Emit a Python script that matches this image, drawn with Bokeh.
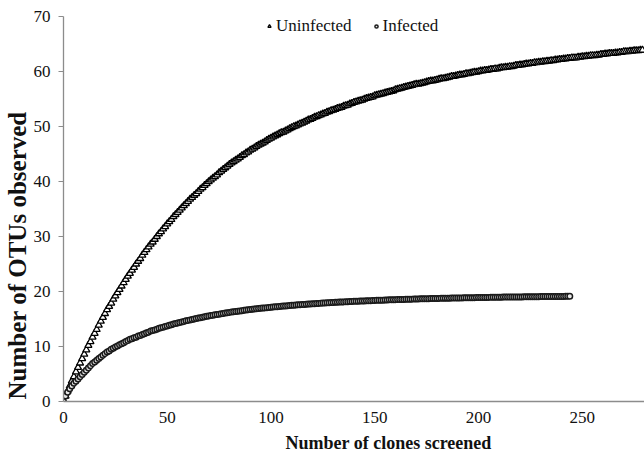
from bokeh.plotting import figure
from bokeh.models import Range1d, Legend, LegendItem, Title, FixedTicker
from bokeh.embed import file_html
from bokeh.resources import INLINE

# OTUs observed vs. number of clones screened (one value per clone, starting at 0)
uninfected_otus = [
    0, 1.0, 1.9, 2.8, 3.7, 4.5, 5.4, 6.2, 7.0, 7.8, 8.6,
    9.4, 10.2, 10.9, 11.7, 12.4, 13.1, 13.9, 14.6, 15.3, 16.0,
    16.7, 17.3, 17.9, 18.6, 19.2, 19.8, 20.4, 21.0, 21.6, 22.2,
    22.8, 23.3, 23.9, 24.4, 25.0, 25.5, 26.0, 26.6, 27.1, 27.6,
    28.1, 28.6, 29.0, 29.5, 30.0, 30.5, 30.9, 31.4, 31.8, 32.3,
    32.7, 33.1, 33.6, 34.0, 34.4, 34.8, 35.2, 35.6, 36.0, 36.4,
    36.8, 37.1, 37.5, 37.8, 38.2, 38.6, 38.9, 39.3, 39.6, 40.0,
    40.3, 40.6, 40.9, 41.2, 41.6, 41.9, 42.2, 42.5, 42.8, 43.1,
    43.4, 43.6, 43.9, 44.1, 44.4, 44.7, 44.9, 45.2, 45.4, 45.7,
    45.9, 46.1, 46.4, 46.6, 46.8, 47.0, 47.2, 47.5, 47.7, 47.9,
    48.1, 48.3, 48.5, 48.7, 48.9, 49.0, 49.2, 49.4, 49.6, 49.8,
    50.0, 50.1, 50.3, 50.5, 50.6, 50.8, 51.0, 51.2, 51.3, 51.5,
    51.7, 51.8, 52.0, 52.1, 52.3, 52.4, 52.6, 52.7, 52.9, 53.0,
    53.1, 53.3, 53.4, 53.5, 53.7, 53.8, 53.9, 54.1, 54.2, 54.4,
    54.5, 54.6, 54.7, 54.8, 55.0, 55.1, 55.2, 55.3, 55.4, 55.6,
    55.7, 55.8, 55.9, 56.0, 56.1, 56.2, 56.3, 56.4, 56.5, 56.7,
    56.8, 56.9, 57.0, 57.1, 57.2, 57.3, 57.4, 57.5, 57.6, 57.7,
    57.7, 57.8, 57.9, 58.0, 58.1, 58.2, 58.3, 58.3, 58.4, 58.5,
    58.6, 58.7, 58.7, 58.8, 58.9, 59.0, 59.1, 59.1, 59.2, 59.3,
    59.4, 59.4, 59.5, 59.6, 59.6, 59.7, 59.8, 59.9, 59.9, 60.0,
    60.1, 60.1, 60.2, 60.2, 60.3, 60.4, 60.4, 60.5, 60.5, 60.6,
    60.7, 60.7, 60.8, 60.8, 60.9, 60.9, 61.0, 61.1, 61.1, 61.2,
    61.2, 61.3, 61.4, 61.4, 61.5, 61.5, 61.6, 61.6, 61.7, 61.7,
    61.8, 61.8, 61.9, 61.9, 62.0, 62.0, 62.1, 62.1, 62.2, 62.2,
    62.3, 62.3, 62.4, 62.4, 62.5, 62.5, 62.5, 62.6, 62.6, 62.7,
    62.7, 62.8, 62.8, 62.9, 62.9, 62.9, 63.0, 63.0, 63.1, 63.1,
    63.2, 63.2, 63.3, 63.3, 63.3, 63.4, 63.4, 63.5, 63.5, 63.6,
    63.6, 63.6, 63.7, 63.7, 63.8, 63.8, 63.8, 63.9, 63.9,
]

infected_otus = [
    0, 1.0, 1.7, 2.3, 2.8, 3.3, 3.7, 4.1, 4.5, 4.9, 5.3,
    5.7, 6.1, 6.5, 6.9, 7.2, 7.5, 7.8, 8.1, 8.4, 8.7,
    9.0, 9.2, 9.5, 9.7, 9.9, 10.1, 10.3, 10.5, 10.7, 10.9,
    11.1, 11.3, 11.4, 11.6, 11.7, 11.9, 12.0, 12.2, 12.3, 12.5,
    12.6, 12.8, 12.9, 13.0, 13.15, 13.3, 13.4, 13.5, 13.65, 13.75,
    13.86, 13.97, 14.07, 14.17, 14.27, 14.37, 14.47, 14.56, 14.66, 14.75,
    14.84, 14.92, 15.0, 15.08, 15.16, 15.24, 15.32, 15.4, 15.48, 15.55,
    15.62, 15.69, 15.76, 15.82, 15.88, 15.95, 16.01, 16.07, 16.14, 16.2,
    16.26, 16.31, 16.36, 16.42, 16.47, 16.52, 16.57, 16.62, 16.67, 16.72,
    16.77, 16.81, 16.85, 16.89, 16.94, 16.98, 17.02, 17.06, 17.1, 17.14,
    17.18, 17.21, 17.25, 17.28, 17.31, 17.35, 17.38, 17.41, 17.45, 17.48,
    17.51, 17.54, 17.57, 17.6, 17.63, 17.65, 17.68, 17.71, 17.74, 17.77,
    17.79, 17.82, 17.84, 17.87, 17.89, 17.91, 17.94, 17.96, 17.99, 18.01,
    18.03, 18.05, 18.07, 18.09, 18.11, 18.13, 18.15, 18.17, 18.19, 18.21,
    18.23, 18.24, 18.26, 18.28, 18.29, 18.31, 18.33, 18.34, 18.36, 18.38,
    18.39, 18.41, 18.42, 18.43, 18.45, 18.46, 18.48, 18.49, 18.5, 18.52,
    18.53, 18.54, 18.55, 18.56, 18.58, 18.59, 18.6, 18.61, 18.62, 18.64,
    18.65, 18.66, 18.67, 18.68, 18.69, 18.7, 18.71, 18.72, 18.73, 18.74,
    18.75, 18.76, 18.77, 18.77, 18.78, 18.79, 18.8, 18.81, 18.82, 18.83,
    18.84, 18.84, 18.85, 18.86, 18.86, 18.87, 18.88, 18.88, 18.89, 18.9,
    18.91, 18.91, 18.92, 18.93, 18.93, 18.94, 18.95, 18.95, 18.96, 18.97,
    18.97, 18.98, 18.98, 18.99, 18.99, 19.0, 19.0, 19.01, 19.01, 19.02,
    19.02, 19.03, 19.03, 19.04, 19.04, 19.05, 19.05, 19.06, 19.06, 19.07,
    19.07, 19.08, 19.08, 19.08, 19.09, 19.09, 19.1, 19.1, 19.1, 19.11,
    19.11, 19.12, 19.12, 19.13,
]

uninfected_clones = list(range(len(uninfected_otus)))
infected_clones = list(range(len(infected_otus)))

x_ticks = [0, 50, 100, 150, 200, 250]
y_ticks = [0, 10, 20, 30, 40, 50, 60, 70]
series_names = ["Uninfected", "Infected"]
x_title = "Number of clones screened"
y_title = "Number of OTUs observed"

SERIF = "'Liberation Serif', 'Times New Roman', serif"
AXIS_GRAY = "#8c8c8c"

p = figure(width=644, height=458, output_backend="svg", toolbar_location=None,
           x_range=Range1d(0, 280), y_range=Range1d(0, 70),
           min_border_left=63, min_border_right=0, min_border_top=16, min_border_bottom=57)
p.outline_line_color = None
p.xgrid.visible = False
p.ygrid.visible = False
p.background_fill_color = "white"
p.border_fill_color = "white"

r_un = p.scatter(uninfected_clones, uninfected_otus, marker="triangle", size=7,
                 line_color="#000000", line_width=1.3, fill_color="white")
r_in = p.scatter(infected_clones, infected_otus, marker="circle", size=5.5,
                 line_color="#1a1a1a", line_width=1.5, fill_color="#e8e8e8")

# axes
xa = p.xaxis[0]
xa.ticker = FixedTicker(ticks=x_ticks)
xa.axis_line_color = AXIS_GRAY
xa.axis_line_width = 1.3
xa.major_tick_out = 0
xa.major_tick_in = 0
xa.minor_tick_out = 0
xa.minor_tick_in = 0
xa.major_label_text_font = SERIF
xa.major_label_text_font_size = "17px"
xa.major_label_text_color = "#111111"
xa.major_label_standoff = 10

ya = p.yaxis[0]
ya.ticker = FixedTicker(ticks=y_ticks)
ya.axis_line_color = AXIS_GRAY
ya.axis_line_width = 1.3
ya.major_tick_out = 5
ya.major_tick_in = 0
ya.major_tick_line_color = AXIS_GRAY
ya.minor_tick_out = 0
ya.minor_tick_in = 0
ya.major_label_text_font = SERIF
ya.major_label_text_font_size = "17px"
ya.major_label_text_color = "#111111"
ya.major_label_standoff = 8

# axis titles
xt = Title(text=x_title, align="left", offset=222, text_font=SERIF,
           text_font_size="18px", text_font_style="bold", text_color="#111111", standoff=11)
p.add_layout(xt, "below")
yt = Title(text=y_title, align="left", offset=2, text_font=SERIF,
           text_font_size="25px", text_font_style="bold", text_color="#111111", standoff=0)
p.add_layout(yt, "left")

legend = Legend(items=[LegendItem(label=series_names[0], renderers=[r_un]),
                       LegendItem(label=series_names[1], renderers=[r_in])],
                location=(202, 365), orientation="horizontal",
                label_text_font=SERIF, label_text_font_size="17px", label_text_color="#111111",
                glyph_width=8, glyph_height=20, label_height=20, label_standoff=3,
                spacing=20, padding=0, margin=0,
                border_line_alpha=0, background_fill_alpha=0)
p.add_layout(legend)

open("out.html", "w").write(file_html(p, INLINE))
